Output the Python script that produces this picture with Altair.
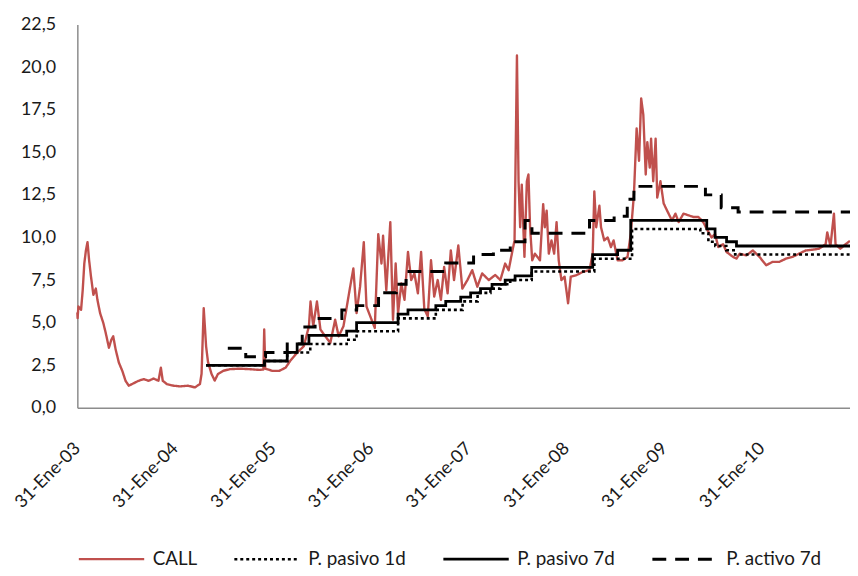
import altair as alt
import pandas as pd

BASE = "2003-01-31"

# CALL rate (days since 31-Jan-2003, %)
call_dias = [0, 1, 4, 14, 20, 26, 32, 38, 44, 51, 60, 69, 75, 85, 97, 106, 118, 127, 134, 143,
             155, 168, 180, 192, 211, 229, 248, 266, 285, 303, 312, 319, 334, 359, 384, 414, 439, 458, 464, 472,
             481, 488, 501, 513, 525, 544, 569, 606, 643, 680, 695, 698, 702, 729, 754, 778, 797, 821, 846, 865,
             871, 881, 895, 908, 926, 945, 963, 976, 994, 1019, 1031, 1043, 1056, 1070, 1080, 1099, 1111, 1124, 1136, 1142,
             1154, 1169, 1179, 1189, 1198, 1210, 1222, 1235, 1247, 1259, 1272, 1284, 1296, 1309, 1321, 1333, 1346, 1358, 1370, 1383,
             1395, 1407, 1423, 1438, 1457, 1475, 1494, 1512, 1537, 1561, 1580, 1598, 1611, 1623, 1633, 1642, 1648, 1654, 1660, 1670,
             1679, 1685, 1691, 1699, 1709, 1728, 1740, 1746, 1753, 1761, 1771, 1781, 1790, 1798, 1808, 1820, 1833, 1843, 1864, 1888,
             1913, 1925, 1931, 1938, 1950, 1956, 1968, 1981, 1993, 2003, 2018, 2036, 2055, 2067, 2079, 2089, 2098, 2106, 2114, 2123,
             2129, 2138, 2143, 2151, 2160, 2166, 2178, 2190, 2203, 2221, 2234, 2246, 2264, 2283, 2301, 2320, 2338, 2351, 2369, 2382,
             2394, 2412, 2425, 2449, 2462, 2474, 2499, 2523, 2548, 2573, 2597, 2622, 2647, 2671, 2696, 2721, 2745, 2770, 2795, 2801,
             2813, 2826, 2832, 2850, 2869, 2886]
call_valor = [5.6, 5.27, 5.95, 5.76, 6.9, 8.47, 9.24, 9.73, 8.66, 7.7, 6.63, 7.0, 6.34, 5.56, 4.98, 4.4, 3.53, 4.0, 4.2, 3.43,
              2.66, 2.17, 1.59, 1.3, 1.45, 1.59, 1.69, 1.59, 1.72, 1.59, 2.36, 1.59, 1.4, 1.3, 1.26, 1.3, 1.2, 1.4, 2.0, 5.85,
              3.6, 2.7, 2.0, 1.6, 1.98, 2.17, 2.27, 2.3, 2.27, 2.23, 2.25, 4.6, 2.3, 2.17, 2.17, 2.36, 2.8, 3.24, 3.62, 4.79,
              6.24, 4.8, 6.24, 4.6, 4.2, 3.82, 5.17, 4.2, 4.79, 7.11, 8.18, 5.56, 7.11, 9.73, 5.95, 5.17, 4.69, 10.2, 8.47, 10.1,
              6.9, 10.9, 5.17, 8.47, 5.56, 7.3, 6.34, 9.15, 7.5, 7.89, 6.72, 9.15, 5.8, 5.37, 8.66, 6.53, 7.5, 6.34, 8.27, 6.72,
              9.24, 7.5, 9.53, 7.0, 7.5, 8.08, 7.11, 7.89, 7.5, 7.8, 7.5, 8.47, 8.08, 9.05, 9.83, 20.68, 13.3, 10.6, 13.1, 8.86,
              13.3, 13.7, 10.6, 8.66, 9.05, 8.66, 11.96, 10.6, 11.57, 9.05, 9.83, 9.05, 10.9, 8.66, 7.5, 7.7, 6.14, 7.7, 7.79, 7.98,
              8.08, 9.05, 12.7, 10.6, 11.86, 10.6, 9.83, 10.0, 9.44, 9.83, 8.66, 8.66, 8.86, 10.2, 12.54, 16.4, 14.5, 18.16, 17.2, 13.7,
              15.6, 14.1, 15.8, 13.3, 15.8, 12.34, 13.3, 12.0, 11.57, 11.0, 11.4, 10.9, 11.4, 11.3, 11.2, 11.2, 10.9, 10.5, 10.0, 10.2,
              9.44, 9.6, 9.15, 8.86, 8.76, 9.05, 8.95, 9.24, 8.86, 8.37, 8.57, 8.57, 8.76, 8.86, 9.05, 9.24, 9.28, 9.34, 9.6, 10.3,
              9.5, 11.4, 9.6, 9.34, 9.6, 9.8]

# Policy rates (step changes)
pas1_dias = [481, 699, 784, 870, 1006, 1043, 1198, 1339, 1439, 1495, 1543, 1580, 1617, 1697, 1931, 2072, 2327, 2357,
             2383, 2424, 2457, 2886]
pas1_valor = [2.5, 2.75, 3.25, 3.75, 4.0, 4.5, 5.25, 5.75, 6.25, 6.75, 7.0, 7.25, 7.5, 8.0, 8.75, 10.5, 10.25, 9.75,
              9.5, 9.25, 9.0, 9.0]

pas7_dias = [481, 699, 784, 821, 865, 1006, 1043, 1198, 1235, 1339, 1376, 1432, 1469, 1506, 1549, 1598, 1635, 1697,
             1925, 2018, 2067, 2351, 2382, 2425, 2462, 2886]
pas7_valor = [2.5, 2.75, 3.25, 3.75, 4.25, 4.5, 5.0, 5.5, 5.75, 6.0, 6.25, 6.5, 6.75, 7.0, 7.25, 7.5, 7.75, 8.25,
              9.0, 9.25, 11.0, 10.5, 10.0, 9.75, 9.5, 9.5]

act7_dias = [562, 629, 703, 784, 840, 888, 988, 1043, 1125, 1191, 1228, 1376, 1480, 1554, 1617, 1672, 1698, 1913,
             2005, 2054, 2079, 2346, 2405, 2468, 2886]
act7_valor = [3.5, 3.0, 3.25, 3.75, 4.75, 5.25, 5.75, 6.0, 6.75, 7.25, 8.0, 8.5, 9.0, 9.25, 9.75, 11.0, 10.25, 11.0,
              11.25, 12.25, 13.0, 12.5, 11.75, 11.5, 11.5]

series = ["CALL", "P. pasivo 1d", "P. pasivo 7d", "P. activo 7d"]
y_ticks = [0, 2.5, 5, 7.5, 10, 12.5, 15, 17.5, 20, 22.5]
x_tick_years = list(range(2003, 2011))


def frame(dias, valores, nombre):
    assert len(dias) == len(valores)
    fechas = (pd.Timestamp(BASE) + pd.to_timedelta(dias, unit="D")).strftime("%Y-%m-%d")
    return pd.DataFrame({"fecha": fechas, "valor": valores, "serie": nombre})


df_call = frame(call_dias, call_valor, series[0])
df_steps = pd.concat([
    frame(pas1_dias, pas1_valor, series[1]),
    frame(pas7_dias, pas7_valor, series[2]),
    frame(act7_dias, act7_valor, series[3]),
])

FONT = "Lato"

x_enc = alt.X(
    "fecha:T",
    scale=alt.Scale(type="utc",
                    domain=[alt.DateTime(year=2003, month=1, date=31, utc=True),
                            alt.DateTime(year=2010, month=12, date=26, utc=True)]),
    axis=alt.Axis(
        values=[alt.DateTime(year=y, month=1, date=31, utc=True) for y in x_tick_years],
        labelExpr="'31-Ene-' + utcFormat(datum.value, '%y')",
        labelAngle=-45, labelAlign="right", labelBaseline="middle",
        labelPadding=38, ticks=False, tickSize=0, grid=False, title=None,
        labelOverlap=False, labelBound=False, labelFlush=False,
        labelFont=FONT, labelFontSize=18, labelColor="#1a1a1a",
        domainColor="#8c8c8c", domainWidth=1.5,
    ),
)
y_enc = alt.Y(
    "valor:Q",
    scale=alt.Scale(domain=[0, 22.5], nice=False),
    axis=alt.Axis(
        values=y_ticks,
        labelExpr="replace(format(datum.value, '.1f'), '.', ',')",
        labelPadding=22, ticks=False, tickSize=0, grid=False, title=None,
        labelFont=FONT, labelFontSize=18, labelColor="#1a1a1a",
        domainColor="#8c8c8c", domainWidth=1.5,
    ),
)

legend = alt.Legend(
    orient="none", legendX=0, legendY=505, direction="horizontal", title=None, padding=0,
    symbolType="stroke", symbolSize=4356, labelFont=FONT, labelFontSize=19,
    labelColor="#1a1a1a", labelOffset=7, columnPadding=31, labelLimit=0,
)

color_enc = alt.Color("serie:N", scale=alt.Scale(domain=series, range=["#C0504D", "black", "black", "black"]),
                      legend=legend)
dash_enc = alt.StrokeDash("serie:N", scale=alt.Scale(domain=series, range=[[1, 0], [3, 3], [1, 0], [14, 9]]),
                          legend=legend)
width_enc = alt.StrokeWidth("serie:N", scale=alt.Scale(domain=series, range=[2.4, 3, 3, 3]), legend=legend)

call_layer = alt.Chart(df_call).mark_line(strokeJoin="round").encode(
    x=x_enc, y=y_enc, color=color_enc, strokeDash=dash_enc, strokeWidth=width_enc
)
step_layer = alt.Chart(df_steps).mark_line(interpolate="step-after").encode(
    x=x_enc, y=y_enc, color=color_enc, strokeDash=dash_enc, strokeWidth=width_enc
)

chart = alt.layer(call_layer, step_layer).properties(
    width=780, height=387,
    autosize=alt.AutoSizeParams(type="none"),
    padding={"left": 70, "top": 14, "right": 0, "bottom": 159},
).configure_view(stroke=None)

chart.save("out.html", embed_options={"renderer": "svg", "actions": False})
